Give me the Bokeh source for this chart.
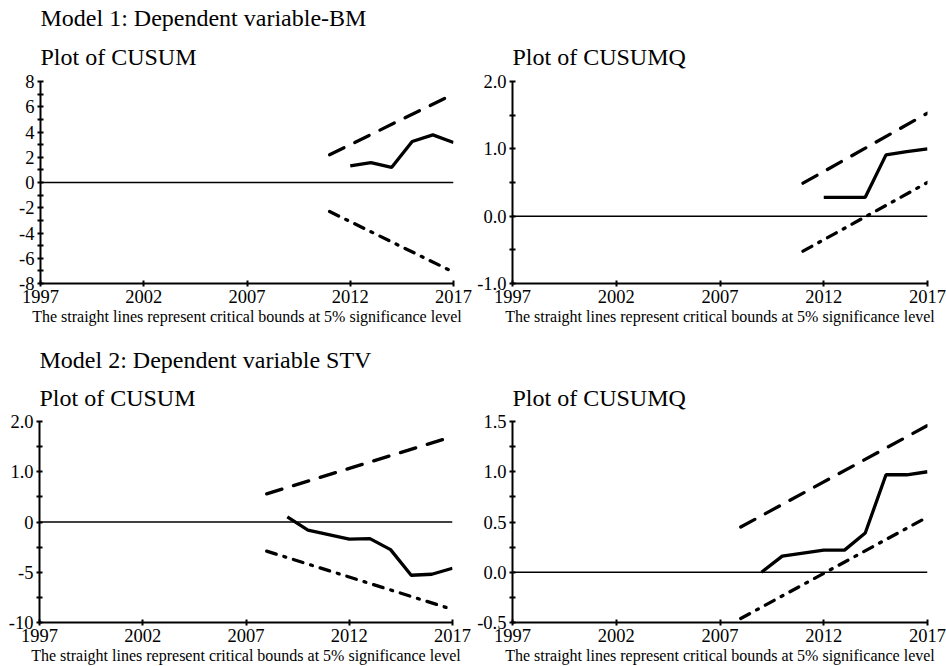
from bokeh.plotting import figure
from bokeh.models import Range1d, FixedTicker, Span, Title
from bokeh.layouts import column, row
from bokeh.embed import file_html
from bokeh.resources import INLINE

# ---------------- data ----------------
x_ticks = [1997, 2002, 2007, 2012, 2017]

# Model 1 CUSUM
m1c_bound_years = [2011, 2017]
m1c_upper = [2.2, 7.0]
m1c_lower = [-2.3, -7.1]
m1c_years = [2012, 2013, 2014, 2015, 2016, 2017]
m1c_values = [1.32, 1.58, 1.19, 3.25, 3.77, 3.17]
m1c_ticks = [-8, -6, -4, -2, 0, 2, 4, 6, 8]
m1c_tick_labels = ["-8", "-6", "-4", "-2", "0", "2", "4", "6", "8"]

# Model 1 CUSUMQ
m1q_bound_years = [2011, 2017]
m1q_upper = [0.49, 1.53]
m1q_lower = [-0.52, 0.50]
m1q_years = [2012, 2013, 2014, 2015, 2016, 2017]
m1q_values = [0.28, 0.28, 0.28, 0.91, 0.96, 1.0]
m1q_ticks = [-1, 0, 1, 2]
m1q_tick_labels = ["-1.0", "0.0", "1.0", "2.0"]

# Model 2 CUSUM (axis printed with labels 2.0, 1.0, 0, -5, -10)
m2c_bound_years = [2008, 2017]
m2c_upper = [2.8, 8.5]
m2c_lower = [-2.9, -8.7]
m2c_years = [2009, 2010, 2011, 2012, 2013, 2014, 2015, 2016, 2017]
m2c_values = [0.5, -0.8, -1.25, -1.7, -1.65, -2.75, -5.3, -5.2, -4.6]
m2c_ticks = [-10, -5, 0, 5, 10]
m2c_tick_labels = ["-10", "-5", "0", "1.0", "2.0"]

# Model 2 CUSUMQ
m2q_bound_years = [2008, 2017]
m2q_upper = [0.45, 1.46]
m2q_lower = [-0.46, 0.55]
m2q_years = [2009, 2010, 2011, 2012, 2013, 2014, 2015, 2016, 2017]
m2q_values = [0.0, 0.16, 0.19, 0.22, 0.22, 0.39, 0.97, 0.97, 1.0]
m2q_ticks = [-0.5, 0.0, 0.5, 1.0, 1.5]
m2q_tick_labels = ["-0.5", "0.0", "0.5", "1.0", "1.5"]

FONT = "Liberation Serif"
NOTE = "The straight lines represent critical bounds at 5% significance level"


def make_panel(width, height, mb_left, mb_right, mb_top, mb_bottom,
               y_lo, y_hi, y_major, y_labels, y_minor, titles, standoffs,
               byears, upper, lower, years, values):
    p = figure(width=width, height=height, output_backend="svg", toolbar_location=None,
               x_range=Range1d(1997, 2017), y_range=Range1d(y_lo, y_hi),
               min_border_left=mb_left, min_border_right=mb_right,
               min_border_top=mb_top, min_border_bottom=mb_bottom,
               x_axis_label=NOTE)
    p.outline_line_color = None
    p.grid.visible = False
    p.background_fill_color = "white"
    p.border_fill_color = "white"

    # titles: first added is closest to the frame
    for t, so in zip(titles, standoffs):
        p.add_layout(Title(text=t, align="left", text_font=FONT, text_font_size="24px",
                           text_font_style="normal", text_color="black",
                           standoff=so, offset=0), "above")

    for ax in (p.xaxis[0], p.yaxis[0]):
        ax.axis_line_width = 2
        ax.axis_line_color = "black"
        ax.major_tick_line_width = 2
        ax.minor_tick_line_width = 2
        ax.major_tick_line_color = "black"
        ax.minor_tick_line_color = "black"
        ax.major_tick_in = 3
        ax.major_tick_out = 3
        ax.minor_tick_in = 3
        ax.minor_tick_out = 3
        ax.major_label_text_font = FONT
        ax.major_label_text_font_size = "18.5px"
        ax.major_label_text_color = "black"

    xa = p.xaxis[0]
    xa.ticker = FixedTicker(ticks=x_ticks)
    xa.minor_tick_line_color = None
    xa.major_label_standoff = 3
    xa.axis_label_text_font = FONT
    xa.axis_label_text_font_size = "16px"
    xa.axis_label_text_font_style = "normal"
    xa.axis_label_text_color = "black"
    xa.axis_label_standoff = 2

    ya = p.yaxis[0]
    ya.ticker = FixedTicker(ticks=y_major, minor_ticks=y_minor)
    ya.major_label_standoff = 3
    ya.major_label_overrides = {t: s for t, s in zip(y_major, y_labels)}

    p.add_layout(Span(location=0, dimension="width", line_color="black", line_width=1.5))

    p.line(byears, upper, line_color="black", line_width=3.3, line_dash="16 12",
           line_cap="round")
    p.line(byears, lower, line_color="black", line_width=3.3, line_dash="10 8 2 8",
           line_cap="round")
    p.line(years, values, line_color="black", line_width=3.3)
    return p


p1 = make_panel(473, 332, 40, 20, 81, 49, -8, 8,
                m1c_ticks, m1c_tick_labels, [-7, -5, -3, -1, 1, 3, 5, 7],
                ["Plot of CUSUM", "Model 1: Dependent variable-BM"], [23, 0],
                m1c_bound_years, m1c_upper, m1c_lower, m1c_years, m1c_values)

p2 = make_panel(473, 332, 39, 19, 81, 49, -1, 2,
                m1q_ticks, m1q_tick_labels, [-0.5, 0.5, 1.5],
                ["Plot of CUSUMQ"], [23],
                m1q_bound_years, m1q_upper, m1q_lower, m1q_years, m1q_values)

p3 = make_panel(473, 334, 39, 21, 89, 42, -10, 10,
                m2c_ticks, m2c_tick_labels, [-7.5, -2.5, 2.5, 7.5],
                ["Plot of CUSUM", "Model 2: Dependent variable STV"], [21, 0],
                m2c_bound_years, m2c_upper, m2c_lower, m2c_years, m2c_values)

p4 = make_panel(473, 334, 39, 19, 89, 42, -0.5, 1.5,
                m2q_ticks, m2q_tick_labels, [-0.25, 0.25, 0.75, 1.25],
                ["Plot of CUSUMQ"], [21],
                m2q_bound_years, m2q_upper, m2q_lower, m2q_years, m2q_values)

layout = column(row(p1, p2), row(p3, p4))

open("out.html", "w").write(file_html(layout, INLINE))
